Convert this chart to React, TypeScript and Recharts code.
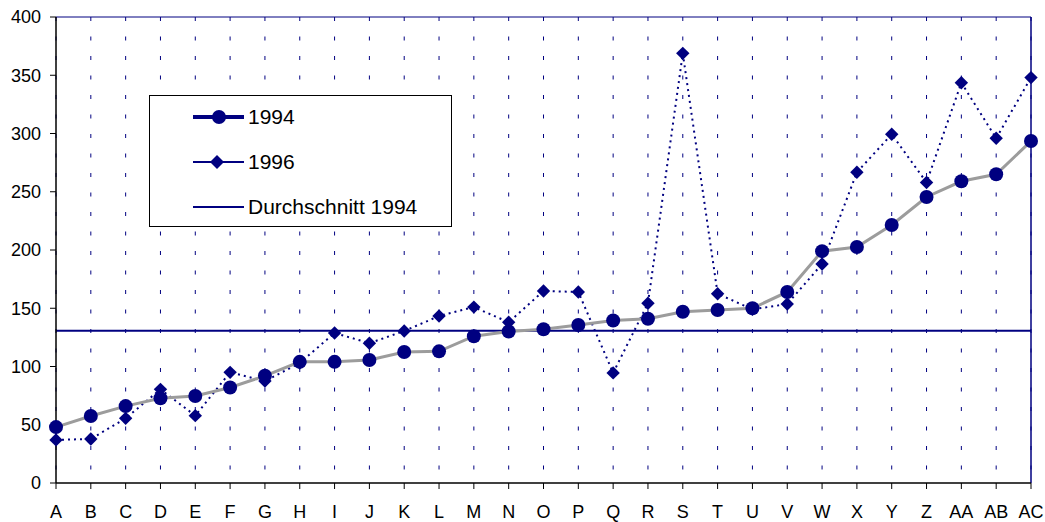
import { LineChart, Line, XAxis, YAxis, CartesianGrid, ReferenceLine } from 'recharts';

const categories = ['A', 'B', 'C', 'D', 'E', 'F', 'G', 'H', 'I', 'J', 'K', 'L', 'M', 'N', 'O', 'P', 'Q', 'R', 'S', 'T', 'U', 'V', 'W', 'X', 'Y', 'Z', 'AA', 'AB', 'AC'];
const values1994 = [48, 57.5, 66, 72.7, 74.7, 82, 92, 104, 104, 105.6, 112.5, 113, 126, 130, 132, 135.6, 139.5, 141, 147, 148.5, 150, 164, 199, 202.6, 221.5, 245.5, 259, 265, 293.5];
const values1996 = [37, 37.8, 55.5, 80.4, 57.8, 95, 87.5, 103, 128.8, 120, 130.5, 143.3, 151, 138, 164.8, 164, 94.5, 154.3, 368.8, 162.5, 149, 153.6, 188, 266.7, 299.3, 258, 343.6, 295.9, 348];
const average1994 = 130.7;
const yTicks = [0, 50, 100, 150, 200, 250, 300, 350, 400];

const NAVY = '#000080';
const GREY = '#9c9c9c';
const FONT = "Arial, 'Liberation Sans', sans-serif";

const data = categories.map((name, i) => ({ name, y1994: values1994[i], y1996: values1996[i] }));

const Diamond = (props: any) => {
  const { cx, cy, index } = props;
  if (cx == null || cy == null) return null;
  const s = 6.7;
  return <polygon key={index} points={`${cx},${cy - s} ${cx + s},${cy} ${cx},${cy + s} ${cx - s},${cy}`} fill={NAVY} />;
};

function LegendBox() {
  const rows = [
    { label: '1994', kind: 'circle', top: 21 },
    { label: '1996', kind: 'diamond', top: 66 },
    { label: 'Durchschnitt 1994', kind: 'line', top: 111 },
  ];
  return (
    <div style={{ position: 'absolute', left: 149, top: 95, width: 301, height: 130, border: '1px solid #000', background: '#fff', fontFamily: FONT }}>
      {rows.map(r => (
        <div key={r.label}>
          <svg width={54} height={20} style={{ position: 'absolute', left: 42, top: r.top - 10 }}>
            <line x1={1} y1={10} x2={52} y2={10} stroke={NAVY} strokeWidth={r.kind === 'circle' ? 4 : 2} />
            {r.kind === 'circle' && <circle cx={27} cy={10} r={7} fill={NAVY} />}
            {r.kind === 'diamond' && <polygon points="25,3 32,10 25,17 18,10" fill={NAVY} />}
          </svg>
          <div style={{ position: 'absolute', left: 98, top: r.top - 12, fontSize: 21, lineHeight: '24px', color: '#000', whiteSpace: 'nowrap' }}>{r.label}</div>
        </div>
      ))}
    </div>
  );
}

export default function App() {
  return (
    <div style={{ position: 'relative', width: 1045, height: 522, background: '#fff' }}>
      <style>{'body{margin:0}'}</style>
      <LineChart width={1045} height={522} data={data} margin={{ top: 17, right: 14, left: 16, bottom: 9 }}>
        <CartesianGrid horizontal={false} vertical stroke={NAVY} strokeDasharray="4 15.5" strokeWidth={1} />
        <XAxis dataKey="name" interval={0} padding={{ left: 0, right: 0 }} height={30} tickSize={6} tickMargin={16}
          axisLine={{ stroke: '#000', strokeWidth: 1.5 }} tickLine={{ stroke: '#000' }}
          tick={{ fill: '#000', fontSize: 18, fontFamily: FONT }} />
        <YAxis domain={[0, 400]} ticks={yTicks} width={40} tickSize={6} tickMargin={9}
          axisLine={{ stroke: '#000', strokeWidth: 1.5 }} tickLine={{ stroke: '#000' }}
          tick={{ fill: '#000', fontSize: 18, fontFamily: FONT }} />
        <ReferenceLine y={400} stroke={NAVY} strokeWidth={1} />
        <ReferenceLine x="AC" stroke={NAVY} strokeWidth={1.5} />
        <ReferenceLine y={average1994} stroke={NAVY} strokeWidth={2} />
        <Line dataKey="y1996" stroke={NAVY} strokeWidth={2} strokeDasharray="2 4" dot={<Diamond />} activeDot={false} isAnimationActive={false} />
        <Line dataKey="y1994" stroke={GREY} strokeWidth={3} dot={{ r: 7, fill: NAVY, stroke: NAVY, strokeWidth: 0 }} activeDot={false} isAnimationActive={false} />
      </LineChart>
      <LegendBox />
    </div>
  );
}
